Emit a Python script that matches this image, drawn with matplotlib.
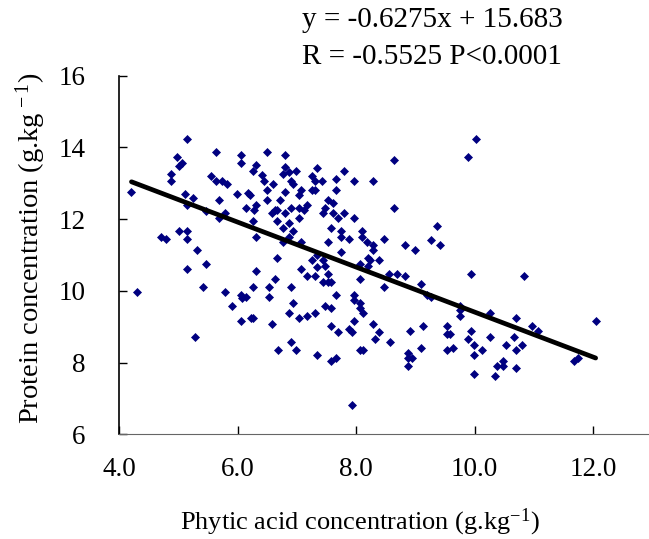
import numpy as np
import matplotlib
matplotlib.use('Agg')
from matplotlib import pyplot as plt

# phytic acid (g/kg) and protein (g/kg)
phytic = [
    5.15, 4.97, 5.64, 6.05, 6.05, 5.06, 5.01, 4.88, 4.88, 5.55,
    5.64, 5.74, 5.82, 4.21, 5.11, 5.24, 5.15, 5.69, 5.99, 5.47,
    5.69, 5.78, 4.70, 4.80, 5.01, 5.15, 5.15, 5.32, 5.47, 5.15,
    4.30, 5.42, 5.78, 6.05, 6.08, 6.14, 5.91, 6.05, 5.28,
    6.49, 6.80, 6.31, 6.26, 6.42, 6.45, 6.59, 6.80, 6.77, 6.86,
    6.98, 6.90, 6.94, 7.34, 7.25, 7.31, 7.43, 7.66, 7.79, 7.97,
    8.28, 6.49, 6.18, 6.21, 6.80, 7.07, 7.03, 7.25, 7.31, 7.66,
    6.49, 6.72, 6.14, 6.31, 6.28, 6.63, 6.67, 6.58, 6.80, 6.90,
    7.03, 7.12, 7.17, 7.52, 7.61, 7.48, 7.44, 7.61, 7.79, 7.70,
    7.97, 6.26, 6.67, 6.86, 7.03, 6.76, 6.94, 7.57, 7.74, 7.74,
    7.88, 8.10, 8.10, 8.19, 8.28, 8.28, 8.47, 6.31, 6.86, 6.76,
    7.07, 7.52, 7.74, 7.34, 7.25, 7.44, 7.34, 7.48, 6.67, 7.07,
    7.17, 7.31, 7.52, 7.44, 7.52, 7.57, 8.06, 8.20, 8.24, 8.20,
    8.38, 6.31, 6.63, 8.06,
    10.03, 9.89, 8.64, 8.64, 9.36, 9.27, 8.82, 9.00, 9.41, 8.56,
    8.69, 8.82, 9.94, 10.83,
    6.26, 6.53, 6.90, 8.47, 6.53, 6.94, 7.66, 7.97, 7.97, 8.06,
    7.48, 7.57, 8.06, 8.11, 6.86, 7.03, 7.17, 7.31, 6.22, 6.26,
    6.58, 7.97, 8.28, 7.57, 7.70, 7.88, 7.93, 8.38, 8.32, 8.57,
    6.90, 6.68, 6.98, 7.34, 7.57, 7.66, 8.06, 8.11, 7.93,
    9.09, 9.19, 9.26, 9.75, 9.75, 9.76, 10.26, 10.69, 10.97, 11.06,
    12.04, 8.91, 9.13, 9.53, 9.53, 9.58, 9.94, 9.89, 9.99, 10.26,
    10.66, 10.52, 10.79, 10.70, 9.09, 8.87, 8.87, 8.95, 8.87, 9.53,
    9.63, 10.12, 9.99, 10.48, 10.48, 10.38, 10.70, 9.99, 10.34, 11.68,
    11.74,
]
protein = [
    14.23, 13.72, 13.86, 13.79, 13.57, 13.57, 13.49, 13.27, 13.05, 13.20,
    13.05, 13.05, 12.98, 12.75, 12.69, 12.60, 12.39, 12.53, 12.69, 12.23,
    12.02, 12.18, 11.50, 11.44, 11.66, 11.66, 11.44, 11.14, 10.76, 10.62,
    9.96, 10.11, 9.96, 9.88, 9.80, 9.82, 9.59, 9.16, 8.71,
    13.86, 13.78, 13.51, 13.34, 13.22, 13.06, 12.99, 13.45, 13.27, 13.31,
    13.33, 13.06, 12.99, 13.42, 13.20, 13.06, 13.06, 13.12, 13.33, 13.05,
    13.05, 12.82, 12.74, 12.67, 12.75, 12.82, 12.67, 12.82, 12.82, 12.82,
    12.53, 12.53, 12.32, 12.39, 12.25, 12.25, 12.25, 12.17, 12.17, 12.32,
    12.32, 12.25, 12.40, 12.53, 12.45, 12.32, 12.17, 12.17, 12.17, 12.02,
    12.02, 11.95, 11.95, 11.88, 12.02, 11.74, 11.66, 11.74, 11.66, 11.50,
    11.44, 11.66, 11.50, 11.36, 11.29, 11.13, 11.44, 11.50, 11.50, 11.36,
    11.36, 11.36, 11.07, 10.99, 10.86, 10.86, 10.67, 10.70, 10.92, 10.62,
    10.41, 10.41, 10.48, 10.25, 10.25, 10.25, 10.76, 10.93, 10.86, 10.70,
    10.86, 10.56, 10.33, 10.33,
    14.23, 13.72, 13.64, 12.32, 11.80, 11.43, 11.29, 11.14, 11.29, 10.48,
    10.48, 10.41, 10.48, 10.41,
    10.11, 10.11, 10.11, 10.11, 9.82, 9.67, 9.89, 9.89, 9.74, 9.67,
    9.59, 9.52, 9.52, 9.37, 9.37, 9.23, 9.30, 9.37, 9.23, 9.23,
    9.08, 9.16, 9.08, 9.01, 8.86, 8.93, 8.86, 8.86, 8.65, 8.57,
    8.57, 8.35, 8.35, 8.20, 8.05, 8.13, 8.35, 8.35, 6.82,
    10.19, 9.88, 9.82, 9.57, 9.46, 9.31, 9.39, 9.23, 9.02, 8.87,
    9.16, 8.87, 9.02, 9.02, 8.79, 8.79, 8.87, 8.65, 8.50, 8.72,
    8.72, 8.50, 8.50, 8.35, 8.42, 8.27, 8.13, 8.13, 7.90, 8.35,
    8.42, 8.35, 8.20, 8.05, 7.90, 7.90, 7.84, 7.68, 7.62, 8.05,
    8.13,
]

slope = -0.6275
intercept = 15.683
eq_text = 'y = -0.6275x + 15.683'
stat_text = 'R = -0.5525 P<0.0001'

x_ticks = [4.0, 6.0, 8.0, 10.0, 12.0]
y_ticks = [6, 8, 10, 12, 14, 16]

plt.rcParams['font.family'] = 'Liberation Serif'
plt.rcParams['mathtext.fontset'] = 'custom'
plt.rcParams['mathtext.rm'] = 'Liberation Serif'
plt.rcParams['mathtext.it'] = 'Liberation Serif:italic'

fig = plt.figure(figsize=(6.49, 5.39), dpi=100)
ax = fig.add_axes([0.1834, 0.1942, 0.8166, 0.6654])

ax.plot(phytic, protein, linestyle='none', marker='D', markersize=3.9,
        color='#000080', markeredgewidth=0.5)

x_fit = np.array([min(phytic), max(phytic)])
ax.plot(x_fit, slope * x_fit + intercept, color='black', linewidth=3.4,
        solid_capstyle='round')

ax.set_xlim(4.0, 12.94)
ax.set_ylim(6, 16)
ax.set_xticks(x_ticks)
ax.set_xticklabels(['%.1f' % t for t in x_ticks])
ax.set_yticks(y_ticks)
ax.tick_params(direction='in', length=6, width=1, labelsize=19.5)
ax.tick_params(axis='x', pad=16)
ax.tick_params(axis='y', pad=24)

ax.spines['top'].set_visible(False)
ax.spines['right'].set_visible(False)
ax.spines['bottom'].set_color('#666666')
ax.spines['left'].set_linewidth(1.2)

fig.text(360 / 649, 1 - 522 / 539, r'Phytic acid concentration (g.kg$^{-1}$)',
         ha='center', va='center', fontsize=19)
fig.text(31 / 649, 1 - 248 / 539, r'Protein concentration (g.kg$^{\,-1}$)',
         ha='center', va='center', rotation=90, fontsize=20.5)

fig.text(432 / 649, 1 - 20 / 539, eq_text, ha='center', va='center', fontsize=21)
fig.text(432 / 649, 1 - 57 / 539, stat_text, ha='center', va='center', fontsize=21)

fig.savefig('out.png', dpi=100)
